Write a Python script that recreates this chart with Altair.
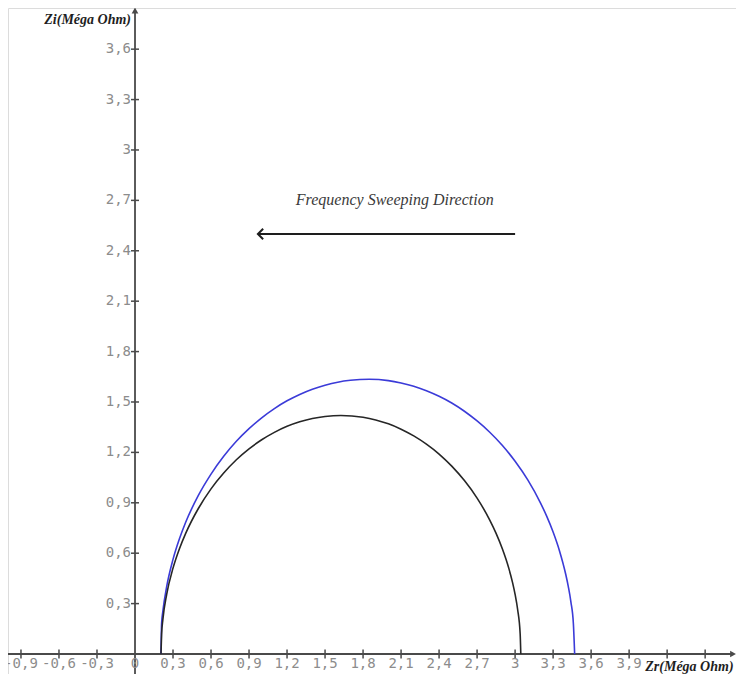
import altair as alt
import pandas as pd

# ---- data ----
blue_x = [0.205, 0.21, 0.22, 0.25, 0.30, 0.35, 0.40, 0.50, 0.60, 0.70, 0.80, 0.90, 1.00, 1.10, 1.20,
          1.30, 1.40, 1.50, 1.60, 1.70, 1.85, 2.00, 2.10, 2.20, 2.30, 2.40, 2.50, 2.60, 2.70, 2.80,
          2.90, 3.00, 3.10, 3.20, 3.25, 3.30, 3.35, 3.40, 3.42, 3.44, 3.46, 3.47]
blue_y = [0.0, 0.181, 0.255, 0.401, 0.563, 0.684, 0.784, 0.944, 1.071, 1.177, 1.266, 1.341, 1.406,
          1.461, 1.507, 1.545, 1.576, 1.600, 1.618, 1.629, 1.635, 1.627, 1.613, 1.594, 1.567, 1.534,
          1.494, 1.445, 1.387, 1.320, 1.241, 1.147, 1.036, 0.900, 0.819, 0.726, 0.615, 0.473, 0.401,
          0.312, 0.18, 0.0]
black_x = [0.205, 0.21, 0.22, 0.25, 0.30, 0.35, 0.40, 0.50, 0.60, 0.70, 0.80, 0.90, 1.00, 1.10, 1.20,
           1.30, 1.40, 1.50, 1.625, 1.80, 1.90, 2.00, 2.10, 2.20, 2.30, 2.40, 2.50, 2.60, 2.70, 2.80,
           2.85, 2.90, 2.95, 2.98, 3.00, 3.02, 3.04, 3.045]
black_y = [0.0, 0.119, 0.206, 0.355, 0.511, 0.625, 0.718, 0.866, 0.983, 1.077, 1.156, 1.221, 1.275,
           1.319, 1.355, 1.382, 1.402, 1.414, 1.42, 1.409, 1.393, 1.370, 1.338, 1.298, 1.249, 1.190,
           1.118, 1.032, 0.928, 0.797, 0.718, 0.625, 0.511, 0.425, 0.355, 0.265, 0.119, 0.0]

x_tick_values = [-0.9, -0.6, -0.3, 0.3, 0.6, 0.9, 1.2, 1.5, 1.8, 2.1, 2.4, 2.7, 3.0, 3.3, 3.6, 3.9, 4.2, 4.5]
x_label_values = [-0.9, -0.6, -0.3, 0, 0.3, 0.6, 0.9, 1.2, 1.5, 1.8, 2.1, 2.4, 2.7, 3.0, 3.3, 3.6, 3.9]
y_tick_values = [0.3, 0.6, 0.9, 1.2, 1.5, 1.8, 2.1, 2.4, 2.7, 3.0, 3.3, 3.6]

x_title = "Zr(Méga Ohm)"
y_title = "Zi(Méga Ohm)"
annotation = "Frequency Sweeping Direction"
arrow_from = 3.0
arrow_to = 0.97
arrow_y = 2.5

# ---- layout ----
W, H = 728, 666
X_DOM = [-1.0024, 4.7435]
Y_DOM = [-0.119, 3.845]
xs = alt.Scale(domain=X_DOM, nice=False, zero=False)
ys = alt.Scale(domain=Y_DOM, nice=False, zero=False)
X = lambda f="x:Q": alt.X(f, scale=xs, axis=None)
Y = lambda f="y:Q": alt.Y(f, scale=ys, axis=None)


def fmt(v):
    return f"{v:g}".replace(".", ",")


curves = pd.DataFrame(
    [{"x": a, "y": b, "s": "blue", "i": i} for i, (a, b) in enumerate(zip(blue_x, blue_y))]
    + [{"x": a, "y": b, "s": "black", "i": i} for i, (a, b) in enumerate(zip(black_x, black_y))]
)

axis_color = "#4a4a4a"
label_color = "#8c8c8c"

lines = alt.Chart(curves).mark_line(strokeWidth=1.6, interpolate="monotone").encode(
    x=X(), y=Y(),
    color=alt.Color("s:N", scale=alt.Scale(domain=["blue", "black"], range=["#3b3bd8", "#262626"]), legend=None),
    detail="s:N",
    order="i:Q",
)

xaxis = alt.Chart(pd.DataFrame({"x": [X_DOM[0]], "x2": [4.72], "y": [0.0]})).mark_rule(
    color=axis_color, strokeWidth=1.8).encode(x=X(), x2="x2:Q", y=Y())
yaxis = alt.Chart(pd.DataFrame({"x": [0.0], "y": [Y_DOM[0]], "y2": [3.83]})).mark_rule(
    color=axis_color, strokeWidth=1.8).encode(x=X(), y=Y(), y2="y2:Q")

xhead = alt.Chart(pd.DataFrame({"x": [4.72], "y": [0.0]})).mark_point(
    shape="triangle-right", filled=True, size=45, color=axis_color, opacity=1).encode(x=X(), y=Y())
yhead = alt.Chart(pd.DataFrame({"x": [0.0], "y": [3.83]})).mark_point(
    shape="triangle-up", filled=True, size=45, color=axis_color, opacity=1).encode(x=X(), y=Y())

xticks = alt.Chart(pd.DataFrame({"x": x_tick_values, "y": [0.0] * len(x_tick_values)})).mark_tick(
    orient="vertical", size=9, thickness=1.5, color=axis_color, opacity=1).encode(x=X(), y=Y())
yticks = alt.Chart(pd.DataFrame({"x": [0.0] * len(y_tick_values), "y": y_tick_values})).mark_tick(
    orient="horizontal", size=8, thickness=1.5, color=axis_color, opacity=1).encode(x=X(), y=Y())

xlabels = alt.Chart(pd.DataFrame({"x": x_label_values, "y": [0.0] * len(x_label_values),
                                  "t": [fmt(v) for v in x_label_values]})).mark_text(
    font="DejaVu Sans Mono", fontSize=14, color=label_color, align="center", baseline="middle", dy=10
).encode(x=X(), y=Y(), text="t:N")
ylabels = alt.Chart(pd.DataFrame({"x": [0.0] * len(y_tick_values), "y": y_tick_values,
                                  "t": [fmt(v) for v in y_tick_values]})).mark_text(
    font="DejaVu Sans Mono", fontSize=14, color=label_color, align="right", baseline="middle", dx=-4
).encode(x=X(), y=Y(), text="t:N")

title_style = dict(font="Liberation Serif", fontSize=14, fontStyle="italic", fontWeight="bold",
                   color="#1e1e1e", align="right", baseline="middle")
ytitle = alt.Chart(pd.DataFrame({"x": [0.0], "y": [3.775], "t": [y_title]})).mark_text(
    dx=-4, **title_style).encode(x=X(), y=Y(), text="t:N")
xtitle = alt.Chart(pd.DataFrame({"x": [4.74], "y": [0.0], "t": [x_title]})).mark_text(
    dx=-2, dy=13, **title_style).encode(x=X(), y=Y(), text="t:N")

note = alt.Chart(pd.DataFrame({"x": [2.05], "y": [2.70], "t": [annotation]})).mark_text(
    font="Liberation Serif", fontSize=16, fontStyle="italic", color="#3a3a3a", align="center", baseline="middle"
).encode(x=X(), y=Y(), text="t:N")

arrow_line = alt.Chart(pd.DataFrame({"x": [arrow_to], "x2": [arrow_from], "y": [arrow_y]})).mark_rule(
    color="#1e1e1e", strokeWidth=2).encode(x=X(), x2="x2:Q", y=Y())
arrow_head = alt.Chart(pd.DataFrame({"x": [arrow_to], "y": [arrow_y]})).mark_point(
    shape="M1,-1 L0,0 L1,1", filled=False, size=110, color="#1e1e1e", strokeWidth=2, opacity=1
).encode(x=X(), y=Y())

chart = alt.layer(
    xaxis, yaxis, xhead, yhead, xticks, yticks, xlabels, ylabels, ytitle, xtitle, note,
    arrow_line, arrow_head, lines
).properties(
    width=W, height=H, padding=0, autosize=alt.AutoSizeParams(type="none")
).configure_view(stroke="#dcdcdc", strokeWidth=1)

chart.save("out.html", embed_options={"renderer": "svg", "actions": False})
